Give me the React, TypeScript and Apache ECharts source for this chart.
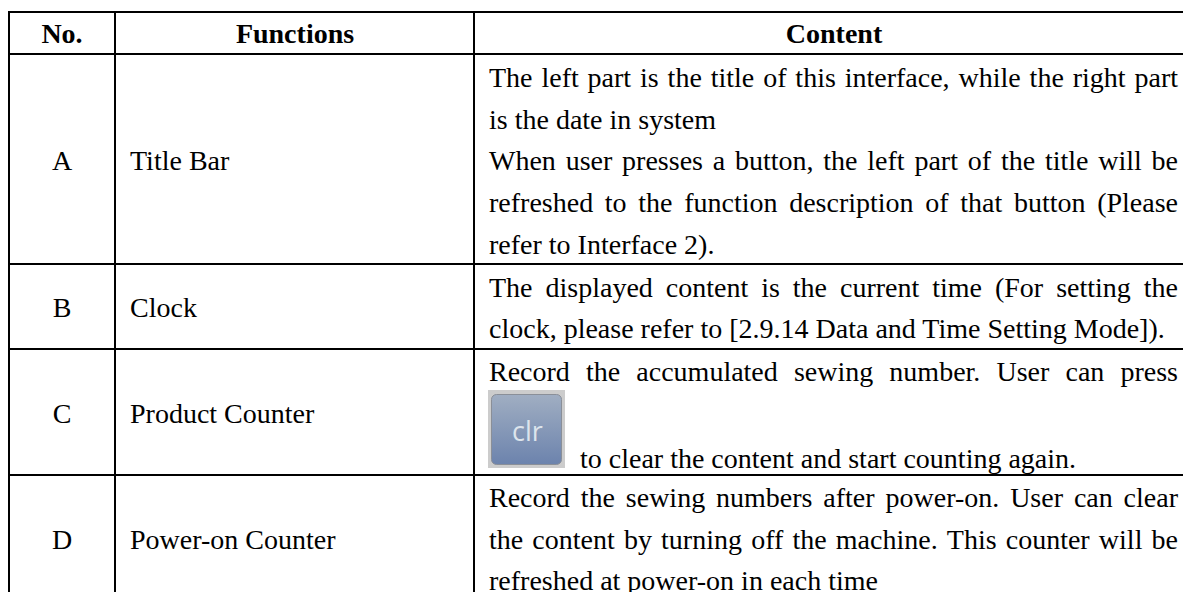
import React, { useEffect, useRef } from "react";
import * as echarts from "echarts";

const W = 1183;
const H = 592;
const FONT = '"Liberation Serif", "Times New Roman", serif';
const SIZE = 28;

const headers = ["No.", "Functions", "Content"];
const numbers = ["A", "B", "C", "D"];
const functions = ["Title Bar", "Clock", "Product Counter", "Power-on Counter"];
// each content line: [text, justified?, baseline y]
const contentA: [string, boolean, number][] = [
  ["The left part is the title of this interface, while the right part", true, 86],
  ["is the date in system", false, 128],
  ["When user presses a button, the left part of the title will be", true, 169],
  ["refreshed to the function description of that button (Please", true, 211],
  ["refer to Interface 2).", false, 253],
];
const contentB: [string, boolean, number][] = [
  ["The displayed content is the current time (For setting the", true, 296],
  ["clock, please refer to [2.9.14 Data and Time Setting Mode]).", false, 337],
];
const contentC: [string, boolean, number][] = [
  ["Record the accumulated sewing number. User can press", true, 380],
  ["to clear the content and start counting again.", false, 467],
];
const contentD: [string, boolean, number][] = [
  ["Record the sewing numbers after power-on. User can clear", true, 506],
  ["the content by turning off the machine. This counter will be", true, 548],
  ["refreshed at power-on in each time", false, 589],
];
const rowLines = [12, 54, 264, 349, 475];
const colLines = [9, 115, 474];
const BASE_OFFSET = 23;

function measure(s: string, bold = false) {
  const c = document.createElement("canvas").getContext("2d")!;
  c.font = `${bold ? "bold " : ""}${SIZE}px ${FONT}`;
  return c.measureText(s).width;
}

function txt(text: string, x: number, baseline: number, align = "left", bold = false) {
  return {
    type: "text",
    x,
    y: baseline - BASE_OFFSET,
    silent: true,
    style: {
      text,
      fill: "#000",
      font: `${bold ? "bold " : ""}${SIZE}px ${FONT}`,
      textAlign: align,
      textVerticalAlign: "top",
    },
  };
}

function lineEls(lines: [string, boolean, number][], left: number, right: number) {
  const out: any[] = [];
  lines.forEach(([t, justify, y]) => {
    if (!justify) {
      const x = t.startsWith("to clear") ? 580 : left;
      out.push(txt(t, x, y));
      return;
    }
    const words = t.split(" ");
    const widths = words.map((w) => measure(w));
    const total = widths.reduce((a, b) => a + b, 0);
    const gap = (right - left - total) / (words.length - 1);
    let x = left;
    words.forEach((w, i) => {
      out.push(txt(w, x, y));
      x += widths[i] + gap;
    });
  });
  return out;
}

function vline(x: number, y1: number, y2: number) {
  return { type: "line", silent: true, shape: { x1: x, y1, x2: x, y2 }, style: { stroke: "#000", lineWidth: 2 } };
}
function hline(y: number) {
  return { type: "line", silent: true, shape: { x1: colLines[0] - 1, y1: y, x2: W, y2: y }, style: { stroke: "#000", lineWidth: 2 } };
}

export default function App() {
  const ref = useRef<HTMLDivElement>(null);
  useEffect(() => {
    const chart = echarts.init(ref.current!, undefined, { renderer: "svg" });
    const L = 489;
    const R = 1178;
    const els: any[] = [];
    rowLines.forEach((y) => els.push(hline(y)));
    colLines.forEach((x) => els.push(vline(x, rowLines[0] - 1, H)));
    els.push(txt(headers[0], 62, 42, "center", true));
    els.push(txt(headers[1], 295, 42, "center", true));
    els.push(txt(headers[2], 834, 42, "center", true));
    const numY = [169, 316, 422, 548];
    numbers.forEach((n, i) => els.push(txt(n, 62, numY[i], "center")));
    functions.forEach((f, i) => els.push(txt(f, 130, numY[i])));
    els.push(...lineEls(contentA, L, R), ...lineEls(contentB, L, R), ...lineEls(contentC, L, R), ...lineEls(contentD, L, R));
    // clr button image
    els.push(
      { type: "rect", silent: true, shape: { x: 488, y: 390, width: 77, height: 78 }, style: { fill: "#cccccc" } },
      {
        type: "rect",
        silent: true,
        shape: { x: 491.5, y: 394.5, width: 70, height: 70, r: 5 },
        style: {
          fill: new echarts.graphic.LinearGradient(0, 0, 0, 1, [
            { offset: 0, color: "#a0aec2" },
            { offset: 1, color: "#6c83ad" },
          ]),
          stroke: "#8a8f98",
          lineWidth: 1,
        },
      },
      {
        type: "text",
        silent: true,
        x: 527.5,
        y: 430,
        style: { text: "clr", fill: "#dde4ec", font: '27px "Open Sans", "DejaVu Sans", sans-serif', textAlign: "center", textVerticalAlign: "middle" },
      }
    );
    chart.setOption({ animation: false, backgroundColor: "#fff", graphic: { elements: els } });
    return () => chart.dispose();
  }, []);
  return <div ref={ref} style={{ position: "fixed", left: 0, top: 0, width: W, height: H }} />;
}
